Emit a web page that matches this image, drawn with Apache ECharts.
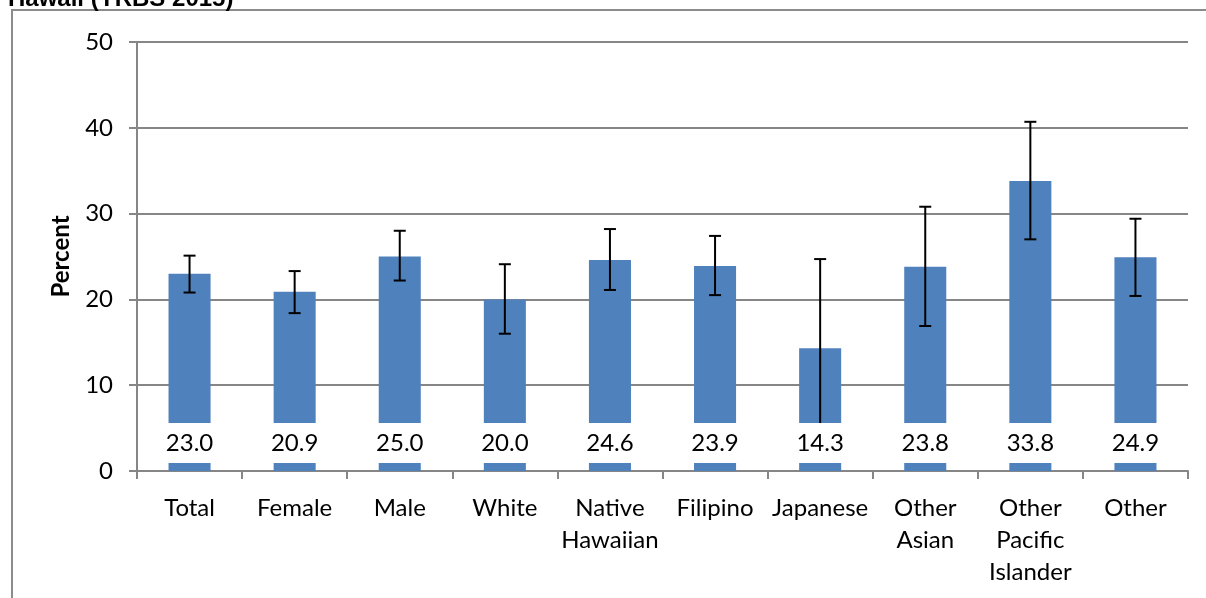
<!DOCTYPE html>
<html><head><meta charset="utf-8">
<script src="https://cdn.jsdelivr.net/npm/echarts@6/dist/echarts.min.js"></script>
<style>html,body{margin:0;padding:0;background:#fff}#c{width:1206px;height:598px}</style>
</head><body><div id="c"></div>
<script>
const categories = ['Total','Female','Male','White','Native\nHawaiian','Filipino','Japanese','Other\nAsian','Other\nPacific\nIslander','Other'];
const values = [23.0, 20.9, 25.0, 20.0, 24.6, 23.9, 14.3, 23.8, 33.8, 24.9];
const lower = [20.8, 18.4, 22.2, 16.0, 21.1, 20.5, 4.0, 16.9, 27.0, 20.4];
const upper = [25.1, 23.3, 28.0, 24.1, 28.2, 27.4, 24.7, 30.8, 40.7, 29.4];
const yTicks = [0, 10, 20, 30, 40, 50];
const titleText = 'Hawaii (YRBS 2015)';

const FONT = 'Lato, Carlito, "Liberation Sans", sans-serif';
const chart = echarts.init(document.getElementById('c'), null, {renderer:'canvas'});
const errData = categories.map((c,i)=>[i, lower[i], upper[i]]);
const labData = categories.map((c,i)=>[i, values[i]]);

chart.setOption({
  animation:false,
  backgroundColor:'#fff',
  graphic:[
    {type:'rect', shape:{x:12, y:10, width:1300, height:700}, style:{fill:null, stroke:'#8c8c8c', lineWidth:2}, z:0},
    {type:'text', left:8, top:-13, style:{text:titleText, font:'bold 24px "Liberation Sans", Arial, sans-serif', fill:'#000'}}
  ],
  grid:{left:137, right:18, top:42, bottom:127, containLabel:false},
  xAxis:{
    type:'category', data:categories,
    axisLine:{lineStyle:{color:'#868686', width:2}},
    axisTick:{show:true, alignWithLabel:false, length:8, lineStyle:{color:'#868686', width:2}},
    axisLabel:{color:'#000', fontFamily:FONT, fontSize:24, lineHeight:32, margin:21, interval:0},
    splitLine:{show:false}
  },
  yAxis:{
    type:'value', min:yTicks[0], max:yTicks[yTicks.length-1], interval:10,
    name:'Percent', nameLocation:'middle', nameGap:64,
    nameTextStyle:{fontFamily:FONT, fontWeight:'bold', fontSize:24, color:'#000'},
    axisLine:{show:true, lineStyle:{color:'#868686', width:2}},
    axisTick:{show:true, length:8, lineStyle:{color:'#868686', width:2}},
    axisLabel:{color:'#000', fontFamily:FONT, fontSize:24, margin:24},
    splitLine:{show:true, lineStyle:{color:'#868686', width:2}}
  },
  series:[
    {type:'bar', data:values, barWidth:'40%', itemStyle:{color:'#4f81bd'}, z:2},
    {type:'custom', z:3, data:errData,
     renderItem:function(params, api){
       const x = api.value(0);
       const lo = api.coord([x, api.value(1)]);
       const hi = api.coord([x, api.value(2)]);
       const cw = 6;
       const st = {stroke:'#000', lineWidth:2};
       return {type:'group', children:[
         {type:'line', shape:{x1:lo[0], y1:lo[1], x2:hi[0], y2:hi[1]}, style:st},
         {type:'line', shape:{x1:lo[0]-cw, y1:lo[1], x2:lo[0]+cw, y2:lo[1]}, style:st},
         {type:'line', shape:{x1:hi[0]-cw, y1:hi[1], x2:hi[0]+cw, y2:hi[1]}, style:st}
       ]};
     }},
    {type:'custom', z:5, data:labData,
     renderItem:function(params, api){
       const x = api.value(0);
       const p = api.coord([x, 0]);
       return {type:'text', x:p[0], y:p[1]-28, style:{
         text: api.value(1).toFixed(1), fill:'#000', font:'24px '+FONT,
         align:'center', verticalAlign:'middle', backgroundColor:'#fff', padding:[8,4,8,4]
       }};
     }}
  ]
});
</script></body></html>
